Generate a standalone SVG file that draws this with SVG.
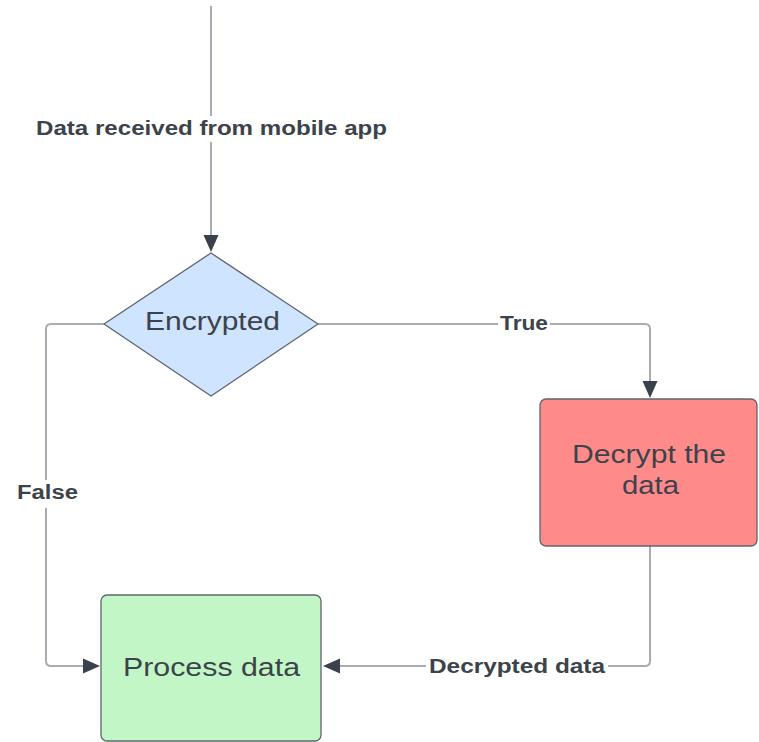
<svg xmlns="http://www.w3.org/2000/svg" width="759" height="742" viewBox="0 0 759 742">
<style>
.conn{fill:none;stroke:#a9adb3;stroke-width:2;marker-end:url(#arr)}
.lbl{font-family:"Liberation Sans",Arial,sans-serif;font-weight:bold;font-size:20px;fill:#3d434b}
.bg{fill:#ffffff}
.node{font-family:"Liberation Sans",Arial,sans-serif;font-size:26px;fill:#3d434b;text-anchor:middle}
.shape{stroke:#5f656d;stroke-width:1.3;stroke-linejoin:round}
</style>
<defs>
<marker id="arr" markerUnits="userSpaceOnUse" markerWidth="18" markerHeight="16" refX="0" refY="7.5" orient="auto" overflow="visible">
<path d="M0,0 L17,7.5 L0,15 Z" fill="#3a414a"/>
</marker>
</defs>
<rect width="759" height="742" fill="#ffffff"/>
<g id="connectors">
<path class="conn" d="M211,6 V235"/>
<path class="conn" d="M318,324 H645 Q650,324 650,329 V381"/>
<path class="conn" d="M104,324 H51 Q46,324 46,329 V661 Q46,666 51,666 H83"/>
<path class="conn" d="M650,546 V661 Q650,666 645,666 H340"/>
<rect class="bg" x="34" y="116" width="355" height="26"/>
<text class="lbl" x="36" y="135" textLength="351" lengthAdjust="spacingAndGlyphs">Data received from mobile app</text>
<rect class="bg" x="498" y="314" width="52" height="20"/>
<text class="lbl" x="500" y="330" textLength="48" lengthAdjust="spacingAndGlyphs">True</text>
<rect class="bg" x="15" y="480" width="65" height="28"/>
<text class="lbl" x="17" y="499" textLength="61" lengthAdjust="spacingAndGlyphs">False</text>
<rect class="bg" x="426" y="656" width="182" height="22"/>
<text class="lbl" x="429" y="673" textLength="176" lengthAdjust="spacingAndGlyphs">Decrypted data</text>
</g>
<g id="encrypted">
<path class="shape" d="M211,253 L318,324 L211,396 L104,324 Z" fill="#cfe4ff" stroke="#3a414a"/>
<text class="node" x="212.5" y="330" textLength="135" lengthAdjust="spacingAndGlyphs">Encrypted</text>
</g>
<g id="decrypt">
<rect class="shape" x="540" y="399" width="217" height="147" rx="6" fill="#ff8a8a"/>
<text class="node" x="649" y="463" textLength="154" lengthAdjust="spacingAndGlyphs">Decrypt the</text>
<text class="node" x="650.5" y="494" textLength="57" lengthAdjust="spacingAndGlyphs">data</text>
</g>
<g id="process">
<rect class="shape" x="101" y="595" width="220" height="146" rx="6" fill="#c3f6c7"/>
<text class="node" x="211.5" y="676" textLength="177" lengthAdjust="spacingAndGlyphs">Process data</text>
</g>
</svg>
